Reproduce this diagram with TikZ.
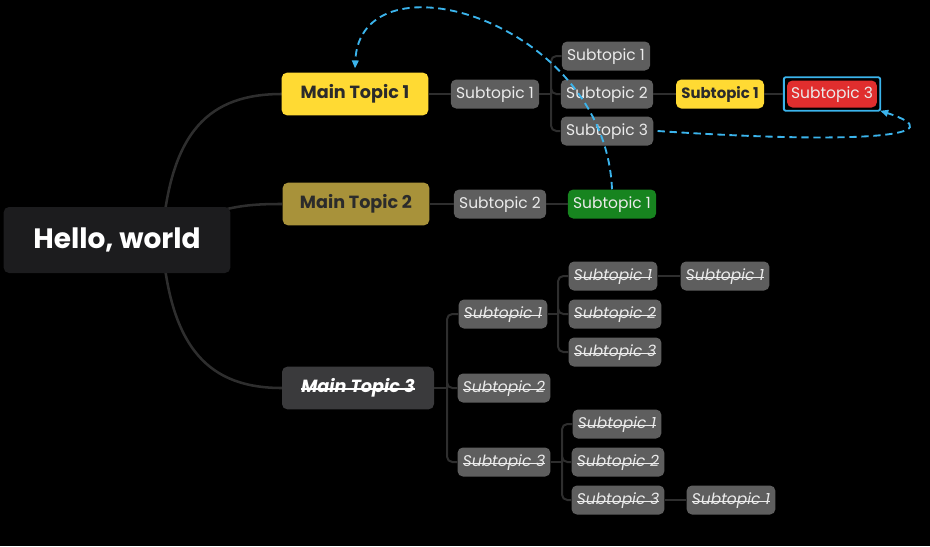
\documentclass[tikz,border=0pt]{standalone}
\usepackage{fontspec}
\setmainfont{Poppins}
\usetikzlibrary{arrows.meta}

\definecolor{rootgray}{HTML}{1C1C1E}
\definecolor{topicyellow}{HTML}{FFDA33}
\definecolor{topicolive}{HTML}{A8923A}
\definecolor{topicdark}{HTML}{3A3A3C}
\definecolor{subgray}{HTML}{5E5E5E}
\definecolor{subgreen}{HTML}{17841F}
\definecolor{subred}{HTML}{E02E2E}
\definecolor{linkblue}{HTML}{3BB4EC}
\definecolor{branchgray}{HTML}{2E2E2E}
\definecolor{darktext}{HTML}{2B2B2B}

% struck-through italic text
\newsavebox{\strikebox}
\newcommand{\struck}[1]{\sbox{\strikebox}{\textit{#1}}%
  \rlap{\raisebox{0.3ex}{\rule{\wd\strikebox}{0.09em}}}\usebox{\strikebox}}

\tikzset{
  rootbox/.style={fill=rootgray, text=white, rounded corners=4pt,
    font=\fontsize{21}{24}\selectfont\bfseries,
    minimum width=170pt, minimum height=49.5pt, yshift=0pt},
  topicbox/.style={rounded corners=4pt, font=\fontsize{13.2}{16}\selectfont\bfseries,
    minimum width=110pt, minimum height=32pt, text height=0.7em, text depth=0pt},
  subbox/.style={fill=subgray, text=white!92!black, rounded corners=4pt,
    font=\fontsize{11.6}{13}\selectfont, minimum height=21.75pt, inner xsep=4pt,
    text height=0.7em, text depth=0pt},
  curvelink/.style={draw=branchgray, line width=1.9pt},
  branch/.style={draw=branchgray, line width=1.5pt, rounded corners=4pt},
  relation/.style={draw=linkblue, line width=1.4pt, dash pattern=on 5.5pt off 3.5pt,
    -{Triangle[length=6pt,width=5pt]}},
  selbox/.style={draw=linkblue, line width=1.4pt, rounded corners=1.5pt}
}

\begin{document}
\begin{tikzpicture}[x=0.75pt, y=-0.75pt]
  \fill[black] (0,0) rectangle (930,546);
  \useasboundingbox (0,0) rectangle (930,546);

  % central topic and main branches
  \coordinate (hub) at (162,240);
  \draw[curvelink] (hub) .. controls (170,130) and (210,94) .. (282,94);
  \draw[curvelink] (hub) .. controls (210,206) and (245,204) .. (282,204);
  \draw[curvelink] (hub) .. controls (170,350) and (210,388) .. (282,388);

  \node[rootbox] (root) at (117,240) {Hello, world};
  \node[topicbox, fill=topicyellow, text=darktext] (mt1) at (355,94) {Main Topic 1};
  \node[topicbox, fill=topicolive, text=darktext] (mt2) at (356,204) {Main Topic 2};
  \node[topicbox, fill=topicdark, text=white, minimum width=114pt] (mt3) at (358,388) {\struck{Main Topic 3}};

  % main topic 1
  \node[subbox] (a) at (495,94) {Subtopic 1};
  \node[subbox] (a1) at (606,56) {Subtopic 1};
  \node[subbox] (a2) at (607,94) {Subtopic 2};
  \node[subbox] (a3) at (607,131) {Subtopic 3};
  \node[subbox, fill=topicyellow, text=darktext, font=\fontsize{11.2}{13}\selectfont\bfseries] (a21) at (720,94) {Subtopic 1};
  \node[subbox, fill=subred, minimum height=20.25pt, inner xsep=3pt] (a211) at (832,94) {Subtopic 3};
  \draw[selbox] ([shift={(-3,-3)}]a211.north west) rectangle ([shift={(3,3)}]a211.south east);

  \draw[branch] (mt1) -- (a);
  \coordinate (fa) at (551,94);
  \draw[branch] (a) -- (fa);
  \foreach \c in {a1,a2,a3} \draw[branch] (fa) |- (\c.west);
  \draw[branch] (a2) -- (a21);
  \draw[branch] (a21) -- ([xshift=-3pt]a211.west);

  % main topic 2
  \node[subbox] (b) at (500,204) {Subtopic 2};
  \node[subbox, fill=subgreen] (b1) at (612,204) {Subtopic 1};
  \draw[branch] (mt2) -- (b);
  \draw[branch] (b) -- (b1);

  % main topic 3
  \node[subbox] (c1) at (503,314) {\struck{Subtopic 1}};
  \node[subbox] (c2) at (504,388) {\struck{Subtopic 2}};
  \node[subbox] (c3) at (504,462) {\struck{Subtopic 3}};
  \node[subbox] (c11) at (613,276) {\struck{Subtopic 1}};
  \node[subbox] (c12) at (615,314) {\struck{Subtopic 2}};
  \node[subbox] (c13) at (615,352) {\struck{Subtopic 3}};
  \node[subbox] (c111) at (725,276) {\struck{Subtopic 1}};
  \node[subbox] (c31) at (617,424) {\struck{Subtopic 1}};
  \node[subbox] (c32) at (618,462) {\struck{Subtopic 2}};
  \node[subbox] (c33) at (618,500) {\struck{Subtopic 3}};
  \node[subbox] (c331) at (731,500) {\struck{Subtopic 1}};

  \coordinate (fc) at (447,388);
  \draw[branch] (mt3) -- (fc);
  \foreach \c in {c1,c2,c3} \draw[branch] (fc) |- (\c.west);
  \coordinate (fc1) at (558,314);
  \draw[branch] (c1) -- (fc1);
  \foreach \c in {c11,c12,c13} \draw[branch] (fc1) |- (\c.west);
  \draw[branch] (c11) -- (c111);
  \coordinate (fc3) at (562,462);
  \draw[branch] (c3) -- (fc3);
  \foreach \c in {c31,c32,c33} \draw[branch] (fc3) |- (\c.west);
  \draw[branch] (c33) -- (c331);

  % relationships
  \draw[relation] (b1.north) .. controls (605,20) and (360,-50) .. ([yshift=3pt]mt1.north);
  \draw[relation] ([xshift=3pt]a3.east) .. controls (870,145) and (955,135) .. ([shift={(3,3)}]a211.south east);
\end{tikzpicture}
\end{document}
